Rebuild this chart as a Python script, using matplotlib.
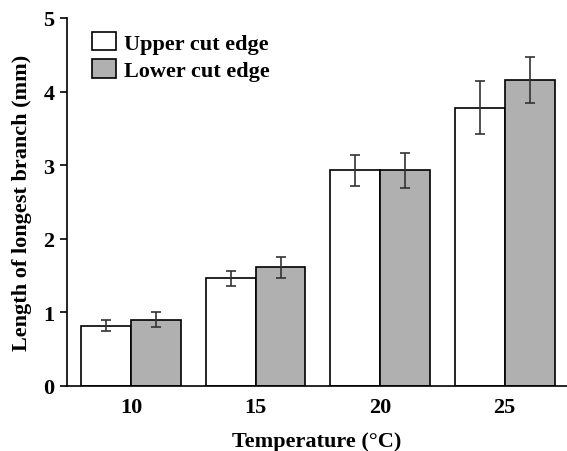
import numpy as np
import matplotlib
matplotlib.use('Agg')
import matplotlib.pyplot as plt

# Datos
temperaturas = ['10', '15', '20', '25']
upper_vals = [0.82, 1.46, 2.93, 3.78]
upper_err = [0.075, 0.10, 0.21, 0.36]
lower_vals = [0.90, 1.61, 2.93, 4.16]
lower_err = [0.10, 0.145, 0.24, 0.31]

plt.rcParams['font.family'] = ['Liberation Serif', 'DejaVu Serif']
plt.rcParams['font.weight'] = 'bold'

fig = plt.figure(figsize=(5.67, 4.52), dpi=100)
ax = fig.add_axes([0.118, 0.144, 0.882, 0.814])

x = np.arange(len(temperaturas))
width = 0.4
err_kw = dict(ecolor='#333333', elinewidth=1.2, capsize=3.5, capthick=1.2)

ax.bar(x - width / 2, upper_vals, width, yerr=upper_err, color='white',
       edgecolor='black', linewidth=1.2, error_kw=err_kw, label='Upper cut edge')
ax.bar(x + width / 2, lower_vals, width, yerr=lower_err, color='#b0b0b0',
       edgecolor='black', linewidth=1.2, error_kw=err_kw, label='Lower cut edge')

ax.set_xlim(-0.515, 3.5)
ax.set_ylim(0, 5)
ax.set_xticks(x)
ax.set_xticklabels(temperaturas)
ax.set_yticks([0, 1, 2, 3, 4, 5])
ax.tick_params(axis='x', length=0, labelsize=16, pad=8)
ax.tick_params(axis='y', direction='out', length=5, width=1.2, labelsize=16, pad=4)
for lab in ax.get_xticklabels() + ax.get_yticklabels():
    lab.set_fontweight('bold')

ax.spines['top'].set_visible(False)
ax.spines['right'].set_visible(False)
ax.spines['left'].set_linewidth(1.2)
ax.spines['bottom'].set_linewidth(1.2)

ax.set_xlabel('Temperature (°C)', fontsize=16, fontweight='bold', labelpad=10)
ax.set_ylabel('Length of longest branch (mm)', fontsize=16, fontweight='bold', labelpad=8)

ax.legend(loc='upper left', bbox_to_anchor=(0.019, 1.005), frameon=False,
          prop={'size': 16, 'weight': 'bold'}, handlelength=1.1, handleheight=0.9,
          handletextpad=0.35, labelspacing=0.25, borderaxespad=0.3)

fig.savefig('out.png', dpi=100)
